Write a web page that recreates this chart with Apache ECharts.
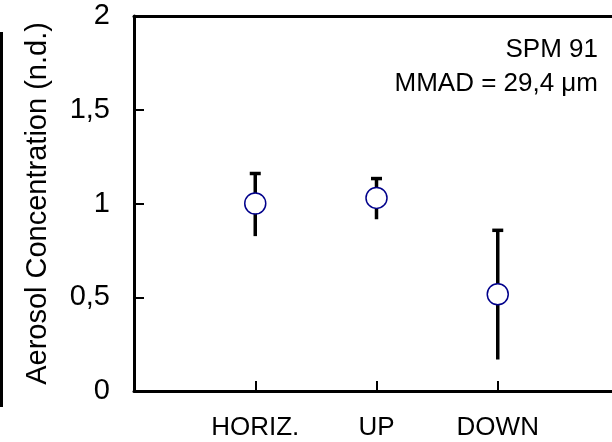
<!DOCTYPE html>
<html>
<head>
<meta charset="utf-8">
<script src="https://cdn.jsdelivr.net/npm/echarts@6/dist/echarts.min.js"></script>
<style>
  html, body { margin: 0; padding: 0; background: #fff; }
  #chart { width: 612px; height: 442px; }
</style>
</head>
<body>
<div id="chart"></div>
<script>
// orientation categories, placed at x = 1, 2, 3
var categories = ['HORIZ.', 'UP', 'DOWN'];
var catPos = [1, 2, 3];
var means = [1.0, 1.03, 0.516];
var lows = [0.826, 0.916, 0.168];
var highs = [1.164, 1.137, 0.861];
var yTicks = ['0', '0,5', '1', '1,5', '2'];

var font = '"Liberation Sans", Arial, sans-serif';

var chart = echarts.init(document.getElementById('chart'));

var points = [];
var bars = [];
for (var i = 0; i < categories.length; i++) {
	points.push([catPos[i], means[i]]);
	bars.push([catPos[i], lows[i], highs[i]]);
}

// error bar: vertical line with a cap on top only
function renderBar(params, api) {
	var x = api.value(0);
	var lo = api.coord([x, api.value(1)]);
	var hi = api.coord([x, api.value(2)]);
	return {
		type: 'group',
		children: [{
			type: 'line',
			shape: { x1: lo[0], y1: lo[1], x2: hi[0], y2: hi[1] },
			style: { stroke: '#000', lineWidth: 3.5 }
		}, {
			type: 'rect',
			shape: { x: hi[0] - 5.5, y: hi[1] - 1, width: 11, height: 3.5 },
			style: { fill: '#000' }
		}]
	};
}

var options = {
	animation: false,
	grid: { left: 134, top: 16, width: 485, bottom: 51, outerBoundsMode: 'none' },
	xAxis: [{
		type: 'value',
		min: 0,
		max: 4,
		interval: 1,
		axisLine: { lineStyle: { color: '#000', width: 3 } },
		axisTick: { inside: true, length: 10, customValues: catPos, lineStyle: { color: '#000', width: 2 } },
		splitLine: { show: false },
		axisLabel: {
			margin: 24,
			color: '#000',
			fontFamily: font,
			fontSize: 26,
			customValues: catPos,
			formatter: function (v) {
				return categories[catPos.indexOf(v)] || '';
			}
		}
	}, {
		type: 'value',
		position: 'top',
		min: 0,
		max: 4,
		axisLine: { show: true, onZero: false, lineStyle: { color: '#000', width: 3 } },
		axisTick: { show: false },
		axisLabel: { show: false },
		splitLine: { show: false }
	}],
	yAxis: {
		type: 'value',
		min: 0,
		max: 2,
		interval: 0.5,
		name: 'Aerosol Concentration (n.d.)',
		nameLocation: 'middle',
		nameGap: 82,
		nameTextStyle: { color: '#000', fontFamily: font, fontSize: 29 },
		axisLine: { show: true, lineStyle: { color: '#000', width: 3 } },
		axisTick: { inside: true, length: 10, lineStyle: { color: '#000', width: 2 } },
		splitLine: { show: false },
		axisLabel: {
			margin: 24,
			color: '#000',
			fontFamily: font,
			fontSize: 29,
			formatter: function (v) {
				return yTicks[Math.round(v * 2)];
			}
		}
	},
	graphic: [{
		type: 'line',
		shape: { x1: 1.5, y1: 32, x2: 1.5, y2: 407 },
		style: { stroke: '#000', lineWidth: 3 }
	}, {
		type: 'text',
		x: 598,
		y: 33,
		style: {
			text: 'SPM 91\nMMAD = 29,4 \u03bcm',
			align: 'right',
			fill: '#000',
			font: '26px ' + font,
			lineHeight: 34
		}
	}],
	series: [{
		type: 'custom',
		renderItem: renderBar,
		encode: { x: 0, y: [1, 2] },
		data: bars,
		z: 2
	}, {
		type: 'scatter',
		data: points,
		symbol: 'circle',
		symbolSize: 21,
		itemStyle: { color: '#fff', borderColor: '#00008b', borderWidth: 1.5, opacity: 1 },
		z: 3
	}]
};

chart.setOption(options);
</script>
</body>
</html>
